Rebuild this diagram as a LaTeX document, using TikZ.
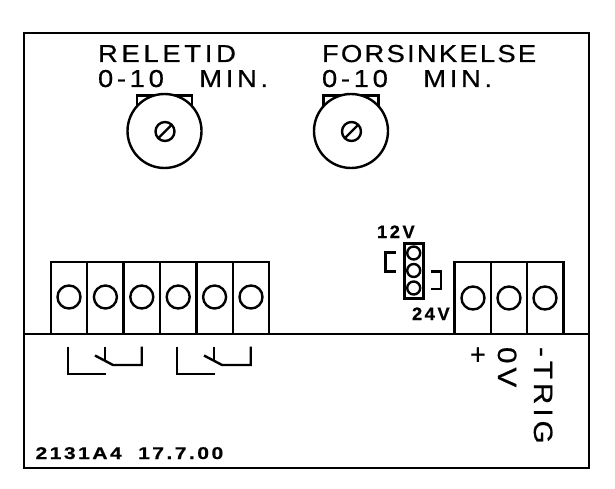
\documentclass[tikz,border=0pt]{standalone}
\usepackage{fontspec}
\setmainfont{Liberation Sans}
\newfontfamily\titlefont[LetterSpace=15,FakeStretch=1.12,FakeBold=0.6]{Liberation Sans}
\newfontfamily\longfont[LetterSpace=9,FakeStretch=1.12,FakeBold=0.6]{Liberation Sans}
\newfontfamily\smallfont[LetterSpace=14,FakeStretch=1.25,FakeBold=0.5]{Liberation Sans Bold}
\newfontfamily\voltfont[LetterSpace=14,FakeStretch=1.02,FakeBold=0.5]{Liberation Sans Bold}
\tikzset{
  plate/.style={line width=2.6pt,draw=black},
  wire/.style={line width=2.4pt,draw=black,line cap=round,line join=miter},
  title/.style={anchor=base west,inner sep=0pt,outer sep=0pt,font=\titlefont\fontsize{24.5}{24.5}\selectfont},
  longtitle/.style={anchor=base west,inner sep=0pt,outer sep=0pt,font=\longfont\fontsize{24.5}{24.5}\selectfont},
  small/.style={anchor=base west,inner sep=0pt,outer sep=0pt,font=\smallfont\fontsize{17}{17}\selectfont},
  volt/.style={anchor=base west,inner sep=0pt,outer sep=0pt,font=\voltfont\fontsize{18}{18}\selectfont},
  vert/.style={anchor=base west,inner sep=0pt,outer sep=0pt,rotate=-90,font=\titlefont\fontsize{26.5}{26.5}\selectfont},
}
\begin{document}
\begin{tikzpicture}[x=1pt,y=-1pt]
\useasboundingbox (0,0) rectangle (615,489);
% plate
\draw[plate] (24,33) rectangle (589,468);
\draw[plate] (24,334) -- (589,334);
% titles
\node[title] (t1) at (98,62) {RELETID};
\node[title] (t2) at (98,87) {0-10\hspace{24pt} MIN.};
\node[longtitle] (t3) at (322,62) {FORSINKELSE};
\node[title] (t4) at (322,87) {0-10\hspace{24pt} MIN.};
% potentiometers
\foreach \cx/\n in {164.5/a,351/b}{
  \draw[wire] (\cx-27.5,110) -- (\cx-27.5,95.5) -- (\cx+27.5,95.5) -- (\cx+27.5,110);
  \draw[wire,fill=white] (\cx,131) circle (37);
  \draw[wire] (\cx+.5,131.5) circle (9.5);
  \draw[wire] (\cx-5.5,137.5) -- (\cx+6.5,125.5);
}
% terminals, left block
\foreach \i in {0,...,5}{
  \draw[wire,line cap=butt] (50.7+36.4*\i,334) -- (50.7+36.4*\i,262) -- (87.1+36.4*\i,262) -- (87.1+36.4*\i,334);
  \draw[wire] (69+36.4*\i,297) circle (11.5);
}
% terminals, right block
\foreach \i in {0,1,2}{
  \draw[wire,line cap=butt] (454.5+36.3*\i,334) -- (454.5+36.3*\i,262) -- (490.8+36.3*\i,262) -- (490.8+36.3*\i,334);
  \draw[wire] (473+36*\i,298) circle (11.5);
}
% contact symbols
\foreach \d in {0,109}{
  \draw[wire,line cap=butt] (67.7+\d,346.7) -- (67.7+\d,374) -- (106+\d,374);
  \draw[wire,line cap=butt] (105+\d,346.7) -- (105+\d,360);
  \draw[wire,line cap=butt] (95+\d,355.5) -- (113+\d,365) -- (141.7+\d,365) -- (141.7+\d,346.7);
}
% jumper
\draw[line width=3pt] (404.5,243.5) rectangle (423,298);
\foreach \y in {253,270.5,288}{
  \draw[wire] (413.7,\y) circle (6.5);
}
\draw[wire,line cap=butt] (396,252.5) -- (385.5,252.5) -- (385.5,271.5) -- (396,271.5);
\draw[wire,line cap=butt] (431,271.5) -- (441,271.5) -- (441,289) -- (431,289);
% small labels
\node[volt] (v12) at (377,238) {12V};
\node[volt] (v24) at (412,320) {24V};
\node[small] (code) at (35.5,459) {2131A4\hspace{8pt} 17.7.00};
% vertical labels
\node[vert] (plus) at (469,346) {+};
\node[vert] (ov) at (498,347) {0V};
\node[vert] (trig) at (534,347) {-TRIG};
\end{tikzpicture}
\end{document}
